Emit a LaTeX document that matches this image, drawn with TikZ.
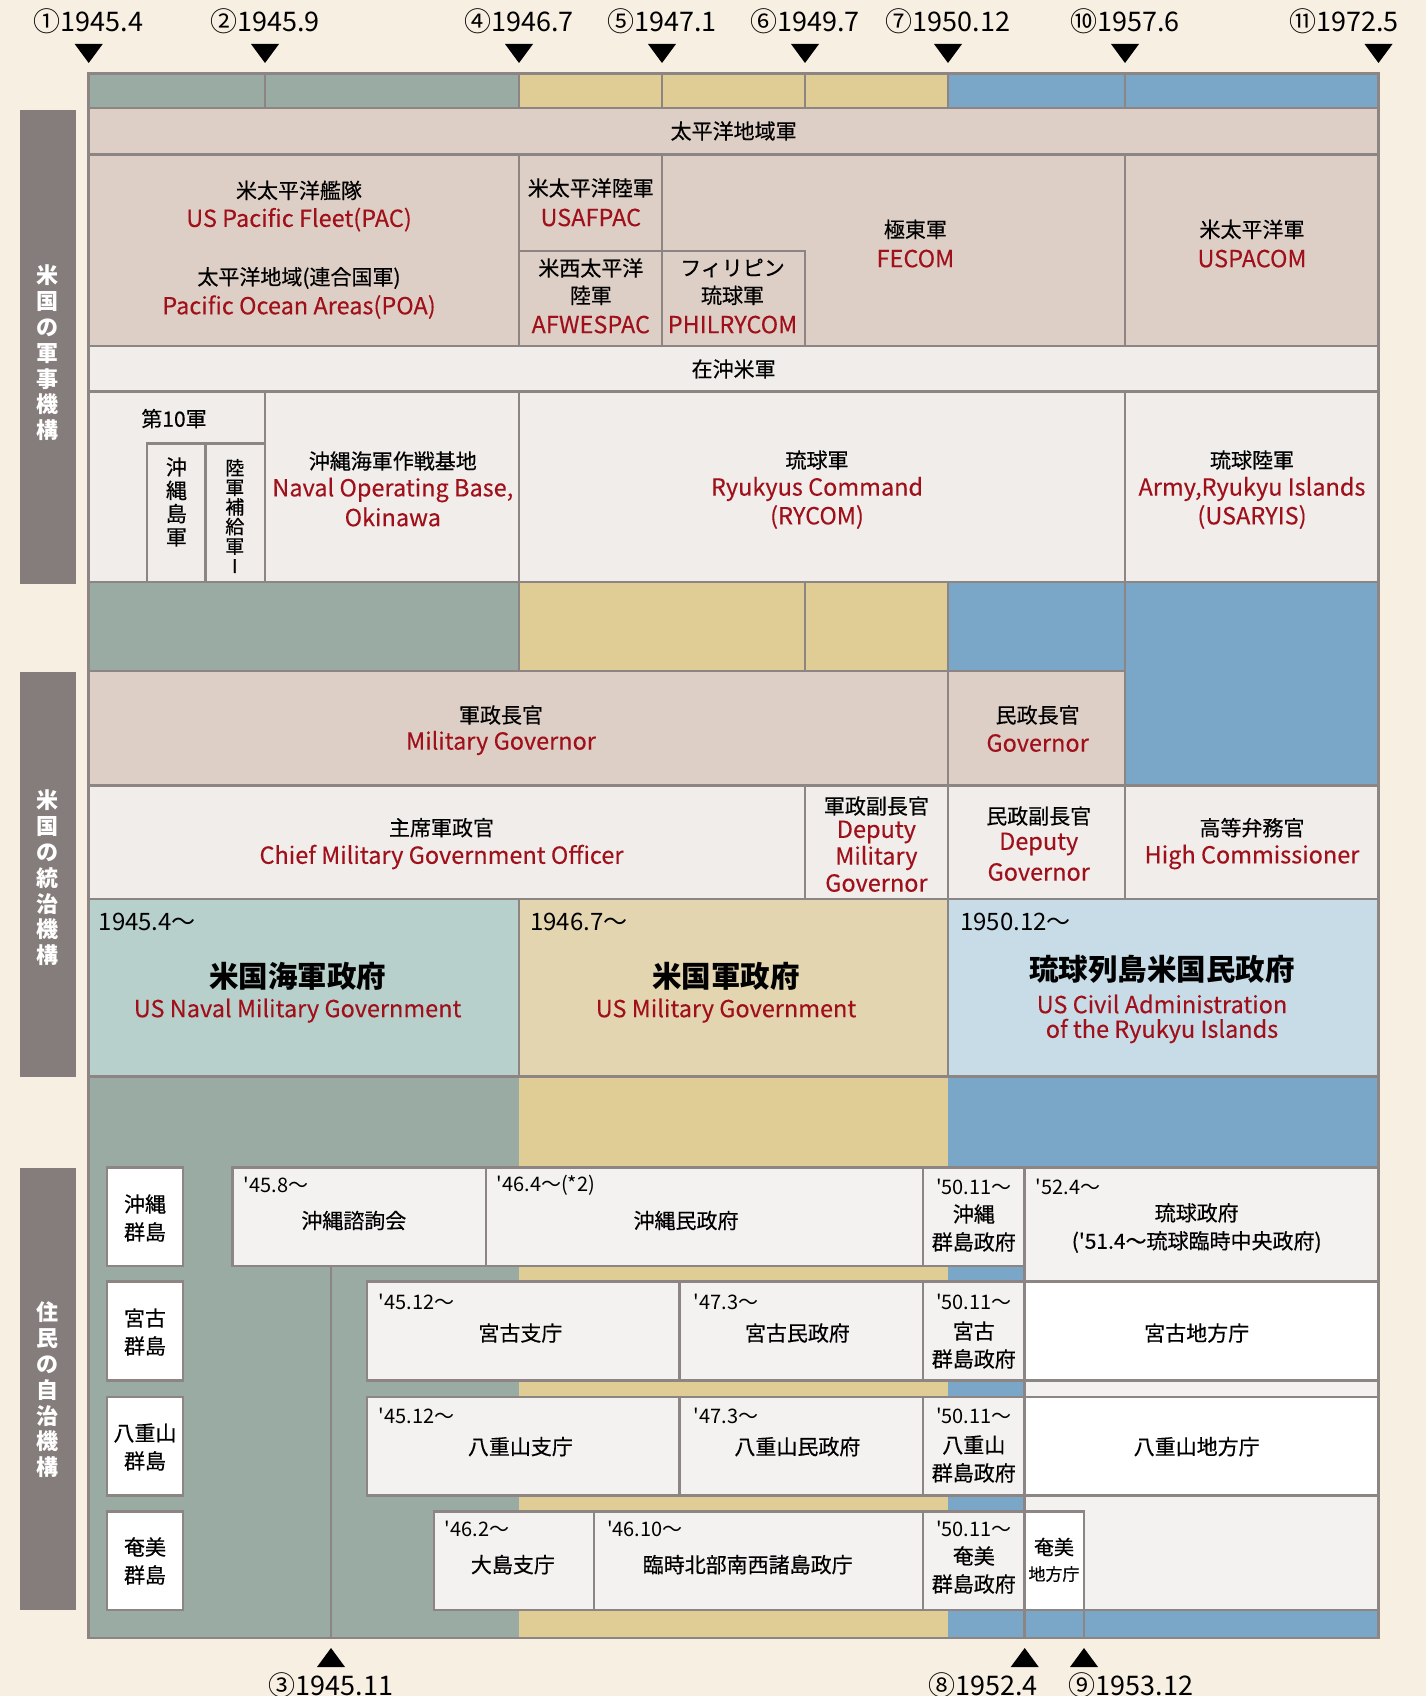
\documentclass[tikz,border=0pt]{standalone}
\usepackage{fontspec}
\setmainfont{Noto Sans CJK JP}[Ligatures=TeXOff]
\newfontfamily\jpm{Noto Sans CJK JP}[Ligatures=TeXOff,FakeBold=0.45]
\newfontfamily\enm{Noto Sans CJK JP}[Ligatures=TeXOff,FakeBold=0.2]
\definecolor{bg}{HTML}{F7EFE2}
\definecolor{gg}{HTML}{9AABA3}
\definecolor{tanc}{HTML}{E0CD96}
\definecolor{blu}{HTML}{7AA7C7}
\definecolor{bei}{HTML}{DDCFC6}
\definecolor{lt}{HTML}{F0EDEB}
\definecolor{lg}{HTML}{F3F2F0}
\definecolor{tealL}{HTML}{B8D0CB}
\definecolor{tanL}{HTML}{E4D5B1}
\definecolor{bluL}{HTML}{C8DCE8}
\definecolor{sbar}{HTML}{857D7B}
\definecolor{bd}{HTML}{8C8584}
\definecolor{redc}{HTML}{A0101A}
\newcommand\bx[6]{\node[cell,#6,minimum width={(#4)-(#2)},minimum height={(#5)-(#3)}] (#1) at ({((#2)+(#4))/2},{((#3)+(#5))/2}) {};}
\begin{document}
\begin{tikzpicture}[x=1pt,y=-1pt,
  cell/.style={draw=bd,line width=2.5pt,inner sep=0pt,outer sep=0pt,fill=lg},
  jp/.style={font=\jpm\fontsize{21}{28}\selectfont,inner sep=0pt,align=center},
  en/.style={font=\enm\fontsize{23.5}{27}\selectfont,text=redc,inner sep=0pt},
  dt/.style={font=\fontsize{20}{24}\selectfont,inner sep=0pt,anchor=west},
  dtc/.style={font=\fontsize{20}{24}\selectfont,inner sep=0pt},
  yr/.style={font=\fontsize{24}{28}\selectfont,inner sep=0pt,anchor=west},
  tl/.style={font=\fontsize{27}{32}\selectfont,inner sep=0pt},
  ttl/.style={font=\bfseries\fontsize{29.5}{34}\selectfont,inner sep=0pt},
  side/.style={font=\bfseries\fontsize{22}{25.8}\selectfont,text=white,align=center,inner sep=0pt},
  vt/.style={font=\jpm\fontsize{21}{23.3}\selectfont,align=center,inner sep=0pt},
  vtb/.style={font=\jpm\fontsize{19}{19.6}\selectfont,align=center,inner sep=0pt},
  mk/.style={fill=black}]
\fill[bg] (0,0) rectangle (1426,1696);
\useasboundingbox (0,0) rectangle (1426,1696);
% lower colour bands
\fill[gg] (88.7,1076.6) rectangle (519,1638);
\fill[tanc] (519,1076.6) rectangle (948,1638);
\fill[blu] (948,1076.6) rectangle (1378.5,1638);
% top strip
\bx{ts1}{88.7}{73.6}{265}{108.2}{fill=gg}
\bx{ts2}{265}{73.6}{519}{108.2}{fill=gg}
\bx{ts3}{519}{73.6}{662}{108.2}{fill=tanc}
\bx{ts4}{662}{73.6}{805}{108.2}{fill=tanc}
\bx{ts5}{805}{73.6}{948}{108.2}{fill=tanc}
\bx{ts6}{948}{73.6}{1125}{108.2}{fill=blu}
\bx{ts7}{1125}{73.6}{1378.5}{108.2}{fill=blu}
% military
\bx{pac}{88.7}{108.2}{1378.5}{154.7}{fill=bei}
\bx{fleet}{88.7}{154.7}{519}{346}{fill=bei}
\bx{usafpac}{519}{154.7}{662}{251}{fill=bei}
\bx{afwes}{519}{251}{662}{346}{fill=bei}
\bx{fecom}{662}{154.7}{1125}{346}{fill=bei}
\bx{philry}{662}{251}{805}{346}{fill=bei}
\bx{uspacom}{1125}{154.7}{1378.5}{346}{fill=bei}
\bx{zaioki}{88.7}{346}{1378.5}{391.7}{fill=lt}
\bx{ten}{88.7}{391.7}{265}{582}{fill=lt}
\bx{okiarmy}{147}{443.6}{205.6}{582}{fill=lt}
\bx{supply}{205.6}{443.6}{265}{582}{fill=lt}
\bx{naval}{265}{391.7}{519}{582}{fill=lt}
\bx{rycom}{519}{391.7}{1125}{582}{fill=lt}
\bx{usaryis}{1125}{391.7}{1378.5}{582}{fill=lt}
% band
\bx{b1}{88.7}{582}{519}{671}{fill=gg}
\bx{b2}{519}{582}{805}{671}{fill=tanc}
\bx{b3}{805}{582}{948}{671}{fill=tanc}
\bx{b4}{948}{582}{1125}{671}{fill=blu}
\bx{b5}{1125}{582}{1378.5}{785.5}{fill=blu}
% governance
\bx{milgov}{88.7}{671}{948}{785.5}{fill=bei}
\bx{gov}{948}{671}{1125}{785.5}{fill=bei}
\bx{chief}{88.7}{785.5}{805}{899}{fill=lt}
\bx{depmil}{805}{785.5}{948}{899}{fill=lt}
\bx{depgov}{948}{785.5}{1125}{899}{fill=lt}
\bx{hicom}{1125}{785.5}{1378.5}{899}{fill=lt}
\bx{navgov}{88.7}{899}{519}{1076.6}{fill=tealL}
\bx{usmg}{519}{899}{948}{1076.6}{fill=tanL}
\bx{uscar}{948}{899}{1378.5}{1076.6}{fill=bluL}
% self-government
\bx{iOki}{107}{1167.5}{183}{1266}{fill=white}
\bx{iMiy}{107}{1281.5}{183}{1380.6}{fill=white}
\bx{iYae}{107}{1397}{183}{1495.3}{fill=white}
\bx{iAma}{107}{1511.6}{183}{1610}{fill=white}
\bx{okshi}{232.6}{1167.5}{485.8}{1266}{}
\bx{okmin}{485.8}{1167.5}{923}{1266}{}
\bx{okgun}{923}{1167.5}{1024.7}{1266}{}
\bx{rarea}{1024.7}{1167.5}{1378.5}{1610}{}
\bx{ryugov}{1024.7}{1167.5}{1378.5}{1281.5}{}
\bx{mys}{366.8}{1281.5}{679.5}{1380.6}{}
\bx{mym}{679.5}{1281.5}{923}{1380.6}{}
\bx{myg}{923}{1281.5}{1024.7}{1380.6}{}
\bx{myc}{1024.7}{1281.5}{1378.5}{1380.6}{fill=white}
\bx{yas}{366.8}{1397}{679.5}{1495.3}{}
\bx{yam}{679.5}{1397}{923}{1495.3}{}
\bx{yag}{923}{1397}{1024.7}{1495.3}{}
\bx{yac}{1024.7}{1397}{1378.5}{1495.3}{fill=white}
\bx{ams}{434}{1511.6}{594}{1610}{}
\bx{amr}{594}{1511.6}{923}{1610}{}
\bx{amg}{923}{1511.6}{1024.7}{1610}{}
\bx{amc}{1024.7}{1511.6}{1084}{1610}{fill=white}
% divider lines
\coordinate (m3a) at (331,1266);
\coordinate (m3b) at (331,1638);
\coordinate (m8a) at (1024.7,1610);
\coordinate (m8b) at (1024.7,1638);
\coordinate (m9a) at (1084,1610);
\coordinate (m9b) at (1084,1638);
\draw[bd,line width=2.5pt] (m3a) -- (m3b) (m8a) -- (m8b) (m9a) -- (m9b);
% frame
\draw[bd,line width=2.5pt] (88.7,73.6) rectangle (1378.5,1638);
% side bars
\bx{sb1}{19.5}{110}{75.7}{584}{fill=sbar,draw=none}
\bx{sb2}{19.5}{672}{75.7}{1076.6}{fill=sbar,draw=none}
\bx{sb3}{19.5}{1167.5}{75.7}{1610}{fill=sbar,draw=none}
\node[side] (sl1) at (47.6,353) {米\\国\\の\\軍\\事\\機\\構};
\node[side] (sl2) at (47.6,878) {米\\国\\の\\統\\治\\機\\構};
\node[side] (sl3) at (47.6,1390) {住\\民\\の\\自\\治\\機\\構};
% top markers
\foreach \n/\x/\lx/\t in {t1/88.7/88.7/①1945.4, t2/265/265/②1945.9, t4/519/519/④1946.7, t5/662/662/⑤1947.1, t6/805/805/⑥1949.7, t7/948/948/⑦1950.12, t10/1125/1125/⑩1957.6, t11/1378.5/1344/⑪1972.5}{
  \node[tl] (\n) at (\lx,21.6) {\t};
  \fill[mk] (\x-14,44) -- (\x+14,44) -- (\x,63) -- cycle;
}
\foreach \n/\x/\lx/\t in {t3/331/331/③1945.11, t8/1024.7/983/⑧1952.4, t9/1084/1131/⑨1953.12}{
  \node[tl] (\n) at (\lx,1685) {\t};
  \fill[mk] (\x,1648) -- (\x+14,1667) -- (\x-14,1667) -- cycle;
}
% texts: military
\node[jp] (x1) at (733.6,131) {太平洋地域軍};
\node[jp] (x2a) at (299,190.4) {米太平洋艦隊};
\node[en] (x2b) at (299,219.6) {US Pacific Fleet(PAC)};
\node[jp] (x2c) at (299,278) {太平洋地域(連合国軍)};
\node[en] (x2d) at (299,307) {Pacific Ocean Areas(POA)};
\node[jp] (x3a) at (590.8,188) {米太平洋陸軍};
\node[en] (x3b) at (590.8,217.5) {USAFPAC};
\node[jp] (x4a) at (590.8,268) {米西太平洋};
\node[jp] (x4b) at (590.8,295.4) {陸軍};
\node[en] (x4c) at (590.8,324.6) {AFWESPAC};
\node[jp] (x5a) at (732.5,268) {フィリピン};
\node[jp] (x5b) at (732.5,295.4) {琉球軍};
\node[en] (x5c) at (732.5,324.6) {PHILRYCOM};
\node[jp] (x6a) at (915.4,229.4) {極東軍};
\node[en] (x6b) at (915.4,258.6) {FECOM};
\node[jp] (x7a) at (1252,229.4) {米太平洋軍};
\node[en] (x7b) at (1252,258.6) {USPACOM};
\node[jp] (x8) at (733.6,369) {在沖米軍};
\node[jp] (x9) at (174,418.7) {第10軍};
\node[vt] (x10) at (176.4,502) {沖\\縄\\島\\軍};
\node[vtb] (x11) at (234.8,516) {陸\\軍\\補\\給\\軍\\Ⅰ};
\node[jp] (x12a) at (392.8,461) {沖縄海軍作戦基地};
\node[en] (x12b) at (392.8,490) {Naval Operating Base,};
\node[en] (x12c) at (392.8,517) {Okinawa};
\node[jp] (x13a) at (817,460) {琉球軍};
\node[en] (x13b) at (817,489) {Ryukyus Command};
\node[en] (x13c) at (817,517) {(RYCOM)};
\node[jp] (x14a) at (1252,460) {琉球陸軍};
\node[en] (x14b) at (1252,489) {Army,Ryukyu Islands};
\node[en] (x14c) at (1252,517) {(USARYIS)};
% texts: governance
\node[jp] (x15a) at (501,715) {軍政長官};
\node[en] (x15b) at (501,743) {Military Governor};
\node[jp] (x16a) at (1037.6,715) {民政長官};
\node[en] (x16b) at (1037.6,743) {Governor};
\node[jp] (x17a) at (441.5,827.7) {主席軍政官};
\node[en] (x17b) at (441.5,857) {Chief Military Government Officer};
\node[jp] (x18a) at (876.4,806) {軍政副長官};
\node[en] (x18b) at (876.4,832) {Deputy};
\node[en] (x18c) at (876.4,858) {Military};
\node[en] (x18d) at (876.4,883) {Governor};
\node[jp] (x19a) at (1038.7,816) {民政副長官};
\node[en] (x19b) at (1038.7,844) {Deputy};
\node[en] (x19c) at (1038.7,872) {Governor};
\node[jp] (x20a) at (1252,827.7) {高等弁務官};
\node[en] (x20b) at (1252,857) {High Commissioner};
\node[yr] (x21a) at (98.5,922) {1945.4〜};
\node[ttl] (x21b) at (297.6,976) {米国海軍政府};
\node[en] (x21c) at (297.6,1010.6) {US Naval Military Government};
\node[yr] (x22a) at (530,922) {1946.7〜};
\node[ttl] (x22b) at (726,976) {米国軍政府};
\node[en] (x22c) at (726,1010.6) {US Military Government};
\node[yr] (x23a) at (960,922) {1950.12〜};
\node[ttl] (x23b) at (1162,969.5) {琉球列島米国民政府};
\node[en] (x23c) at (1162,1004) {US Civil Administration};
\node[en] (x23d) at (1162,1031) {of the Ryukyu Islands};
% texts: self-government
\node[jp] (i1) at (145,1218) {沖縄\\群島};
\node[jp] (i2) at (145,1332) {宮古\\群島};
\node[jp] (i3) at (145,1447) {八重山\\群島};
\node[jp] (i4) at (145,1561) {奄美\\群島};
\node[dt] (d1) at (243.5,1185) {'45.8〜};
\node[jp] (n1) at (353.8,1220.5) {沖縄諮詢会};
\node[dt] (d2) at (496.6,1185) {'46.4〜(*2)};
\node[jp] (n2) at (686,1220.5) {沖縄民政府};
\node[dtc] (d3) at (973.8,1187) {'50.11〜};
\node[jp] (n3) at (973.8,1228) {沖縄\\群島政府};
\node[dt] (d4) at (1035.5,1187) {'52.4〜};
\node[jp] (n4) at (1196.7,1228) {琉球政府\\('51.4〜琉球臨時中央政府)};
\node[dt] (d5) at (378.7,1301.6) {'45.12〜};
\node[jp] (n5) at (520.4,1333) {宮古支庁};
\node[dt] (d6) at (693.6,1301.6) {'47.3〜};
\node[jp] (n6) at (797.4,1333) {宮古民政府};
\node[dtc] (d7) at (973.8,1301.6) {'50.11〜};
\node[jp] (n7) at (973.8,1345) {宮古\\群島政府};
\node[jp] (n8) at (1196.7,1333) {宮古地方庁};
\node[dt] (d9) at (378.7,1416.3) {'45.12〜};
\node[jp] (n9) at (520.4,1446.6) {八重山支庁};
\node[dt] (d10) at (693.6,1416.3) {'47.3〜};
\node[jp] (n10) at (797.4,1446.6) {八重山民政府};
\node[dtc] (d11) at (973.8,1416.3) {'50.11〜};
\node[jp] (n11) at (973.8,1459) {八重山\\群島政府};
\node[jp] (n12) at (1196.7,1446.6) {八重山地方庁};
\node[dt] (d13) at (444.7,1529) {'46.2〜};
\node[jp] (n13) at (512.9,1564.6) {大島支庁};
\node[dt] (d14) at (607,1529) {'46.10〜};
\node[jp] (n14) at (747.7,1564.6) {臨時北部南西諸島政庁};
\node[dtc] (d15) at (973.8,1529) {'50.11〜};
\node[jp] (n15) at (973.8,1570) {奄美\\群島政府};
\node[jp,font=\jpm\fontsize{20}{27}\selectfont] (n16a) at (1054,1547) {奄美};
\node[jp,font=\jpm\fontsize{17}{20}\selectfont] (n16b) at (1054,1574) {地方庁};
\end{tikzpicture}
\end{document}
